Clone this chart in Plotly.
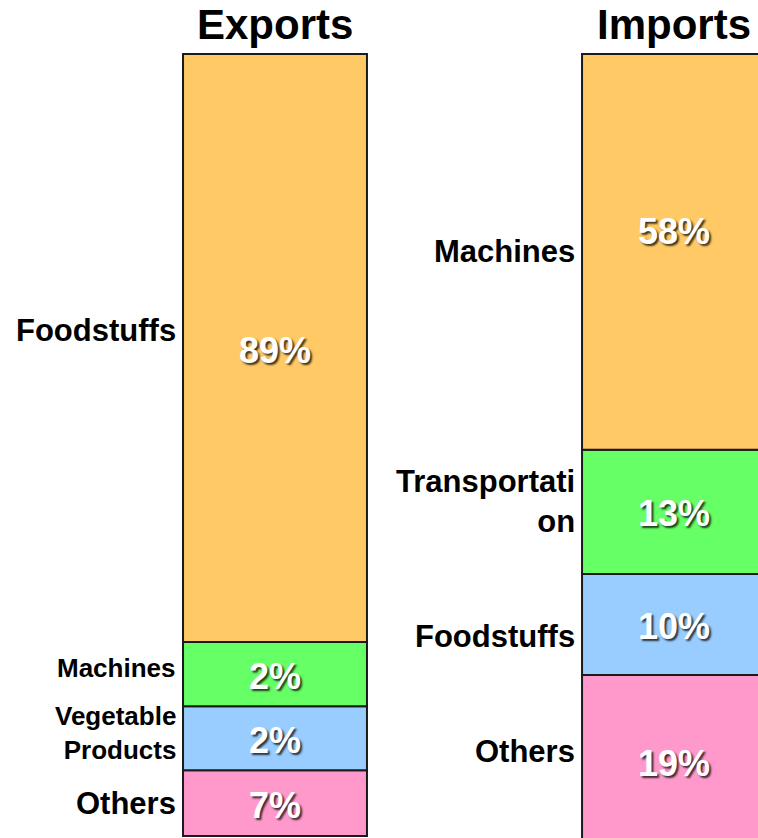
import plotly.graph_objects as go

# ---- data ----
bar_titles = ["Exports", "Imports"]

export_categories = ["Foodstuffs", "Machines", "Vegetable<br>Products", "Others"]
export_percents = [89, 2, 2, 7]
# displayed segment sizes (the reference does not draw them proportionally)
export_sizes = [75.2, 8.2, 8.2, 8.4]

import_categories = ["Machines", "Transportati<br>on", "Foodstuffs", "Others"]
import_percents = [58, 13, 10, 19]
import_sizes = [50.6, 15.9, 12.9, 22.1]

# ---- styling ----
FONT = "Liberation Sans, Arial, sans-serif"
export_colors = ["#FFC966", "#66FF66", "#99CCFF", "#FF99CC"]
import_colors = ["#FFC966", "#66FF66", "#99CCFF", "#FF99CC"]
export_label_sizes = [31, 26, 26, 31]
import_label_sizes = [31, 31, 31, 31]
export_label_shift = [18, 6, 5, 0]
import_label_shift = [0, 10, -12, 10]
export_pct_shift = [-2, -2, -2, -2]
import_pct_shift = [20, -2, -2, -2]
bar_bottoms = [0.0, -1.5]
BAR_W = 0.461

fig = go.Figure()
annotations = []

groups = [
    (export_categories, export_percents, export_sizes, export_colors,
     export_label_sizes, export_label_shift, export_pct_shift),
    (import_categories, import_percents, import_sizes, import_colors,
     import_label_sizes, import_label_shift, import_pct_shift),
]

for gi, (cats, pcts, sizes, colors, lsizes, lshift, pshift) in enumerate(groups):
    # stack from bottom (last item) to top (first item)
    base = bar_bottoms[gi]
    for i in reversed(range(len(cats))):
        fig.add_trace(go.Bar(
            x=[gi], y=[sizes[i]], base=[base], width=BAR_W,
            marker=dict(color=colors[i], line=dict(color="#1a1a1a", width=2)),
            hoverinfo="skip", showlegend=False,
        ))
        mid = base + sizes[i] / 2
        annotations.append(dict(
            x=gi - BAR_W / 2, y=mid, xref="x", yref="y",
            text=f"<b>{cats[i]}</b>", showarrow=False,
            xanchor="right", yanchor="middle", align="right",
            xshift=-5, yshift=lshift[i],
            font=dict(family=FONT, size=lsizes[i], color="#000000"),
        ))
        annotations.append(dict(
            x=gi, y=mid, xref="x", yref="y",
            text=f"<b>{pcts[i]}%</b>", showarrow=False,
            xanchor="center", yanchor="middle",
            yshift=pshift[i],
            font=dict(family=FONT, size=36, color="#FFFFFF",
                      shadow="2px 2px 2px rgba(0,0,0,0.75)"),
        ))
        base += sizes[i]
    annotations.append(dict(
        x=gi, y=1 - 24 / 838, xref="x", yref="paper",
        text=f"<b>{bar_titles[gi]}</b>", showarrow=False,
        xanchor="center", yanchor="middle",
        font=dict(family=FONT, size=42, color="#000000"),
    ))

fig.update_layout(
    width=758, height=838,
    margin=dict(l=0, r=0, t=0, b=0),
    paper_bgcolor="white", plot_bgcolor="white",
    barmode="overlay",
    annotations=annotations,
    xaxis=dict(range=[-0.6892, 1.2105], visible=False, fixedrange=True),
    yaxis=dict(range=[-0.2558, 106.905], visible=False, fixedrange=True),
)

fig.write_html(
    "out.html",
    config={"displayModeBar": False},
    post_script="document.body.style.margin='0';document.body.style.overflow='hidden';",
)
